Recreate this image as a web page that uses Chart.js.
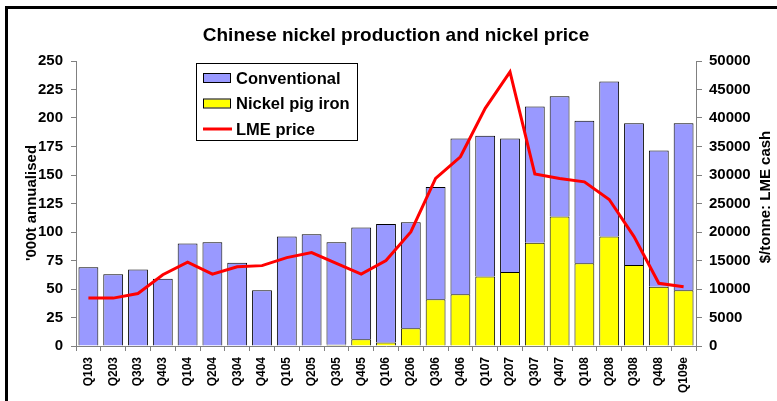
<!DOCTYPE html>
<html>
<head>
<meta charset="utf-8">
<script src="https://cdn.jsdelivr.net/npm/chart.js@4/dist/chart.umd.min.js"></script>
<style>
  html, body { margin: 0; padding: 0; background: #fff; }
  #wrap { position: relative; width: 777px; height: 401px; }
  #frame { position: absolute; left: 5px; top: 6px; width: 900px; height: 500px;
           border-left: 3px solid #000; border-top: 3px solid #000; pointer-events: none; }
</style>
</head>
<body>
<div id="wrap">
  <canvas id="chart" width="777" height="401"></canvas>
  <div id="frame"></div>
</div>
<script>
const quarters = ["Q103", "Q203", "Q303", "Q403", "Q104", "Q204", "Q304", "Q404", "Q105", "Q205",
  "Q305", "Q405", "Q106", "Q206", "Q306", "Q406", "Q107", "Q207", "Q307", "Q407",
  "Q108", "Q208", "Q308", "Q408", "Q109e"];

// '000t annualised
const conventional = [69, 63, 67, 59, 90, 91, 73, 49, 96, 98,
  90, 98, 104, 93, 98.5, 136.5, 123.5, 117, 119.5, 105.5,
  125, 136, 124.5, 119.5, 146.5];
const pigIron = [0, 0, 0, 0, 0, 0, 0, 0, 0, 0,
  1, 6, 3, 15.5, 41, 45.5, 61, 65, 90.5, 113.5,
  72.5, 96, 71, 52, 49];

// $/tonne, LME cash
const lmePrice = [8400, 8400, 9200, 12500, 14700, 12600, 13900, 14100, 15500, 16400,
  14500, 12600, 15000, 20000, 29400, 33200, 41700, 48100, 30200, 29400,
  28800, 25700, 19200, 11000, 10400];

const FONT = "'Liberation Sans', Arial, sans-serif";

// legend box drawn inside the plot, Excel style
const boxLegend = {
  id: "boxLegend",
  afterDraw(chart) {
    const ctx = chart.ctx;
    const x = 196, y = 63, w = 161, h = 77;
    ctx.save();
    ctx.fillStyle = "#fff";
    ctx.fillRect(x, y, w, h);
    ctx.strokeStyle = "#000";
    ctx.lineWidth = 1;
    ctx.strokeRect(x + 0.5, y + 0.5, w, h);
    ctx.font = "bold 16.5px " + FONT;
    ctx.textBaseline = "middle";
    chart.data.datasets.forEach((ds, i) => {
      const cy = 78 + i * 25.5;
      if (ds.type === "line") {
        ctx.strokeStyle = ds.borderColor;
        ctx.lineWidth = 3;
        ctx.beginPath();
        ctx.moveTo(203, cy);
        ctx.lineTo(232, cy);
        ctx.stroke();
      } else {
        ctx.fillStyle = ds.backgroundColor;
        ctx.fillRect(203, cy - 4, 27, 8);
        ctx.strokeStyle = "#000";
        ctx.lineWidth = 1;
        ctx.strokeRect(203.5, cy - 4.5, 27, 9);
      }
      ctx.fillStyle = "#000";
      ctx.fillText(ds.label, 236, cy + 1);
    });
    ctx.restore();
  }
};

// axis titles, both reading bottom to top
const axisTitles = {
  id: "axisTitles",
  afterDraw(chart) {
    const ctx = chart.ctx;
    ctx.save();
    ctx.font = "bold 15px " + FONT;
    ctx.fillStyle = "#000";
    ctx.textAlign = "center";
    ctx.textBaseline = "middle";
    [["'000t annualised", 32, 203], ["$/tonne: LME cash", 766, 197]].forEach(([t, x, y]) => {
      ctx.save();
      ctx.translate(x, y);
      ctx.rotate(-Math.PI / 2);
      ctx.fillText(t, 0, 0);
      ctx.restore();
    });
    ctx.restore();
  }
};

new Chart(document.getElementById("chart"), {
  data: {
    labels: quarters,
    datasets: [
      {
        type: "bar",
        label: "Conventional",
        data: conventional,
        backgroundColor: "#9999FF",
        borderColor: "#000",
        borderWidth: 1,
        yAxisID: "y",
        order: 2
      },
      {
        type: "bar",
        label: "Nickel pig iron",
        data: pigIron,
        backgroundColor: "#FFFF00",
        borderColor: "#000",
        borderWidth: 1,
        yAxisID: "y",
        order: 1
      },
      {
        type: "line",
        label: "LME price",
        data: lmePrice,
        borderColor: "#FF0000",
        borderWidth: 3,
        pointRadius: 0,
        tension: 0,
        yAxisID: "y1",
        order: 0
      }
    ]
  },
  options: {
    responsive: false,
    animation: false,
    layout: { padding: { left: 15, right: 0, top: 0, bottom: 0 } },
    datasets: { bar: { barPercentage: 0.8, categoryPercentage: 1.0 } },
    plugins: {
      legend: { display: false },
      tooltip: { enabled: false },
      title: {
        display: true,
        text: "Chinese nickel production and nickel price",
        color: "#000",
        font: { family: FONT, size: 19, weight: "bold" },
        padding: { top: 24.6, bottom: 13.6 }
      }
    },
    scales: {
      x: {
        stacked: true,
        afterFit: s => { s.height = 55; },
        border: { color: "#808080" },
        grid: { drawOnChartArea: false, drawTicks: true, tickLength: 5, color: "#808080", offset: true },
        ticks: { autoSkip: false, minRotation: 90, maxRotation: 90, padding: 6, color: "#000",
                 font: { family: FONT, size: 12, weight: "bold" } }
      },
      y: {
        stacked: true,
        min: 0,
        max: 250,
        afterFit: s => { s.width = 61; },
        border: { color: "#808080" },
        grid: { drawOnChartArea: false, tickLength: 5, color: "#808080" },
        ticks: { stepSize: 25, padding: 8, color: "#000",
                 font: { family: FONT, size: 15, weight: "bold" } }
      },
      y1: {
        position: "right",
        min: 0,
        max: 50000,
        afterFit: s => { s.width = 81; },
        border: { color: "#808080" },
        grid: { drawOnChartArea: false, tickLength: 6, color: "#808080" },
        ticks: { stepSize: 5000, padding: 7, color: "#000",
                 callback: v => String(v),
                 font: { family: FONT, size: 15, weight: "bold" } }
      }
    }
  },
  plugins: [boxLegend, axisTitles]
});
</script>
</body>
</html>
